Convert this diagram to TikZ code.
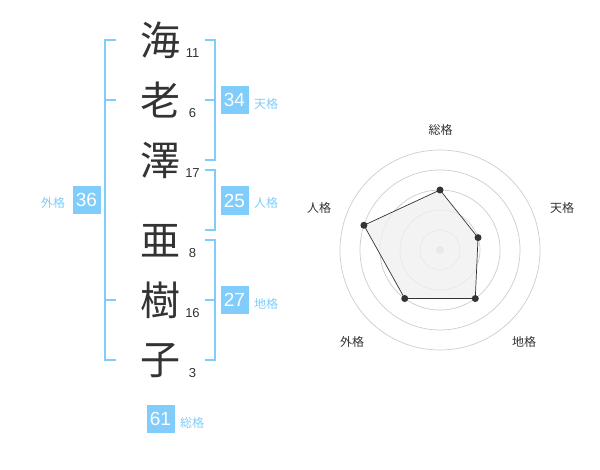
\documentclass[tikz,border=0pt]{standalone}
\usepackage{fontspec}
\setmainfont{Liberation Sans}
\newfontfamily\cjk{Noto Sans CJK JP}
\definecolor{sky}{HTML}{80CCFA}
\definecolor{ink}{HTML}{333333}
\definecolor{ringc}{HTML}{CCCCCC}
\definecolor{polyfill}{HTML}{F0F0F0}
\begin{document}
\begin{tikzpicture}[x=1pt,y=-1pt,
  kanji/.style={font=\cjk\fontsize{40}{40}\selectfont, text=ink, inner sep=0pt},
  strokes/.style={font=\fontsize{13}{13}\selectfont, text=ink, inner sep=0pt},
  scorebox/.style={fill=sky, text=white, minimum width=28pt, minimum height=28.5pt, inner sep=0pt, font=\fontsize{19}{19}\selectfont},
  kakulabel/.style={font=\cjk\fontsize{12}{12}\selectfont, text=sky, inner sep=0pt},
  bracket/.style={draw=sky, line width=2pt},
  ring/.style={draw=ringc, line width=0.7pt},
  axislabel/.style={font=\cjk\fontsize{12}{12}\selectfont, text=ink, inner sep=0pt},
  dot/.style={circle, fill=ink, inner sep=0pt, minimum size=7pt}
]
\path[use as bounding box] (0,0) rectangle (600,470);

% characters
\node[kanji] (k1) at (160,40) {海};
\node[kanji] (k2) at (160,100) {老};
\node[kanji] (k3) at (160,160) {澤};
\node[kanji] (k4) at (160,241) {亜};
\node[kanji] (k5) at (160,300) {樹};
\node[kanji] (k6) at (160,361) {子};

% stroke counts
\node[strokes] (n1) at (192.5,53) {11};
\node[strokes] (n2) at (192.5,113) {6};
\node[strokes] (n3) at (192.5,173) {17};
\node[strokes] (n4) at (192.5,253) {8};
\node[strokes] (n5) at (192.5,313) {16};
\node[strokes] (n6) at (192.5,373) {3};

% brackets
\draw[bracket] (116,40) -- (105,40) -- (105,360) -- (116,360);
\draw[bracket] (105,100) -- (116,100);
\draw[bracket] (105,300) -- (116,300);
\draw[bracket] (205,40) -- (214.5,40) -- (214.5,160) -- (205,160);
\draw[bracket] (205,100) -- (214.5,100);
\draw[bracket] (205,170) -- (214.5,170) -- (214.5,230) -- (205,230);
\draw[bracket] (205,240) -- (214.5,240) -- (214.5,360) -- (205,360);
\draw[bracket] (205,300) -- (214.5,300);

% score boxes
\node[scorebox] (b36) at (86.5,200) {36};
\node[kakulabel] (l36) at (53,203) {外格};
\node[scorebox] (b34) at (234.5,100) {34};
\node[kakulabel] (l34) at (266,104) {天格};
\node[scorebox] (b25) at (234.5,200.5) {25};
\node[kakulabel] (l25) at (266,203) {人格};
\node[scorebox] (b27) at (234.5,300) {27};
\node[kakulabel] (l27) at (266,304) {地格};
\node[scorebox] (b61) at (160.5,419) {61};
\node[kakulabel] (l61) at (192,422.5) {総格};

% radar
\coordinate (C) at (440,250);
\foreach \r in {20,40,60,80,100} \draw[ring] (C) circle[radius=\r];
\fill[ringc] (C) circle[radius=4];
\coordinate (pS) at (440,190);
\coordinate (pT) at (478.04,237.64);
\coordinate (pC) at (475.27,298.54);
\coordinate (pG) at (404.73,298.54);
\coordinate (pJ) at (363.92,225.28);
\draw[fill=polyfill, fill opacity=0.8, draw=ink, line width=0.7pt] (pS) -- (pT) -- (pC) -- (pG) -- (pJ) -- cycle;
\foreach \p in {pS,pT,pC,pG,pJ} \node[dot] at (\p) {};
\node[axislabel] (aS) at (440.7,130) {総格};
\node[axislabel] (aT) at (562,208) {天格};
\node[axislabel] (aC) at (524,342) {地格};
\node[axislabel] (aG) at (352,342) {外格};
\node[axislabel] (aJ) at (319,208) {人格};
\end{tikzpicture}
\end{document}
